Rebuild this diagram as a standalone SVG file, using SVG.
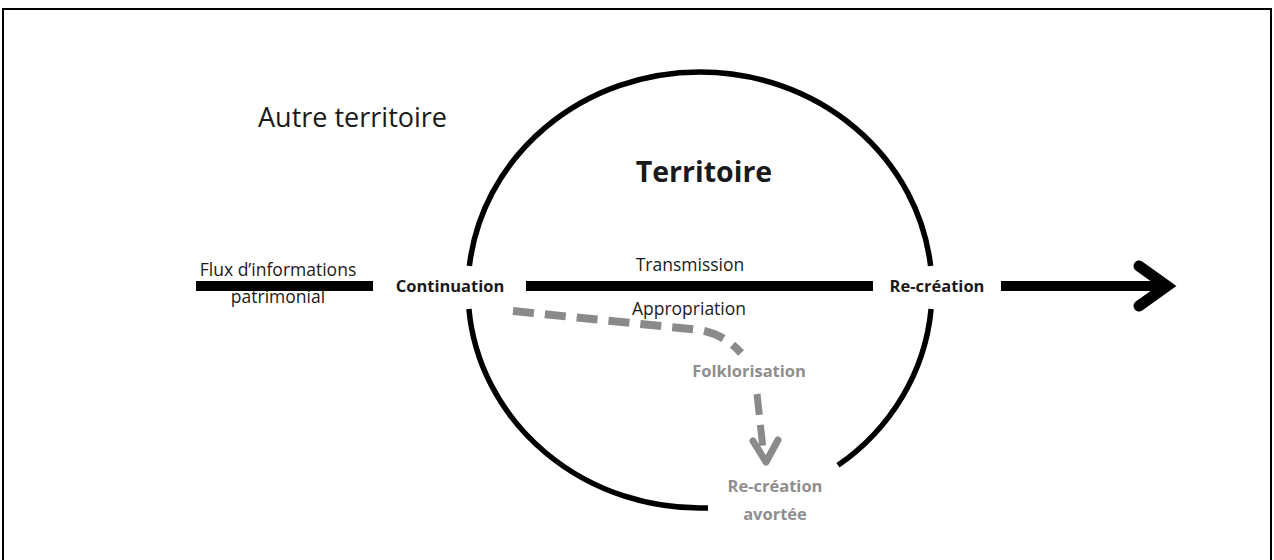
<svg xmlns="http://www.w3.org/2000/svg" width="1274" height="560" viewBox="0 0 1274 560">
  <style>
    .lbl { font-family: "Open Sans", "Noto Sans", "Liberation Sans", sans-serif; fill: #1a1a1a; }
    .reg { font-size: 17.5px; font-weight: 400; }
    .bold { font-size: 16.5px; font-weight: 700; }
    .gray { fill: #8e8e8e; }
    .arc { fill: none; stroke: #000; stroke-width: 5.5; stroke-linecap: butt; }
    .bar { stroke: #000; stroke-width: 10; stroke-linecap: butt; fill: none; }
    .dash { fill: none; stroke: #8a8a8a; stroke-width: 8; stroke-dasharray: 21 11; stroke-linecap: butt; }
  </style>
  <rect x="0" y="0" width="1274" height="560" fill="#ffffff"/>
  <path d="M3 570 V9 H1271 V570" fill="none" stroke="#000" stroke-width="2"/>

  <g id="autre-territoire">
    <text class="lbl" x="258" y="127" font-size="27">Autre territoire</text>
  </g>

  <g id="territoire">
    <path class="arc" d="M469.4 266 A232 218 0 0 1 930.6 266"/>
    <path class="arc" d="M468.9 309 A232 218 0 0 0 708 507.9"/>
    <path class="arc" d="M931.1 309 A232 218 0 0 1 838 465.3"/>
    <text class="lbl" x="704" y="182" font-size="28.5" font-weight="700" text-anchor="middle">Territoire</text>
  </g>

  <g id="connectors">
    <line class="bar" x1="196" y1="286" x2="373" y2="286"/>
    <line class="bar" x1="526" y1="286" x2="873" y2="286"/>
    <line class="bar" x1="1001" y1="286" x2="1164" y2="286" stroke-width="11"/>
    <polyline points="1139,266 1167,286 1139,306" fill="none" stroke="#000" stroke-width="11" stroke-linecap="round" stroke-linejoin="miter"/>
    <path class="dash" d="M513 311 L700 330 Q724 334 741 353"/>
    <path d="M757 394 L764 458" fill="none" stroke="#8a8a8a" stroke-width="7" stroke-dasharray="21 10"/>
    <polyline points="753,441 766,462 778,440" fill="none" stroke="#8a8a8a" stroke-width="7" stroke-linecap="round" stroke-linejoin="round"/>
  </g>

  <g id="flux">
    <text class="lbl reg" x="278" y="276" text-anchor="middle">Flux d’informations</text>
    <text class="lbl reg" x="278" y="303" text-anchor="middle">patrimonial</text>
  </g>

  <g id="continuation">
    <text class="lbl bold" x="450" y="292" text-anchor="middle">Continuation</text>
  </g>

  <g id="transmission">
    <text class="lbl reg" x="690" y="271" text-anchor="middle">Transmission</text>
  </g>

  <g id="appropriation">
    <text class="lbl reg" x="689" y="315" text-anchor="middle">Appropriation</text>
  </g>

  <g id="re-creation">
    <text class="lbl bold" x="937" y="292" text-anchor="middle">Re-création</text>
  </g>

  <g id="folklorisation">
    <text class="lbl bold gray" x="749" y="377" text-anchor="middle">Folklorisation</text>
  </g>

  <g id="re-creation-avortee">
    <text class="lbl bold gray" x="775" y="492" text-anchor="middle">Re-création</text>
    <text class="lbl bold gray" x="775" y="520" text-anchor="middle">avortée</text>
  </g>
</svg>
